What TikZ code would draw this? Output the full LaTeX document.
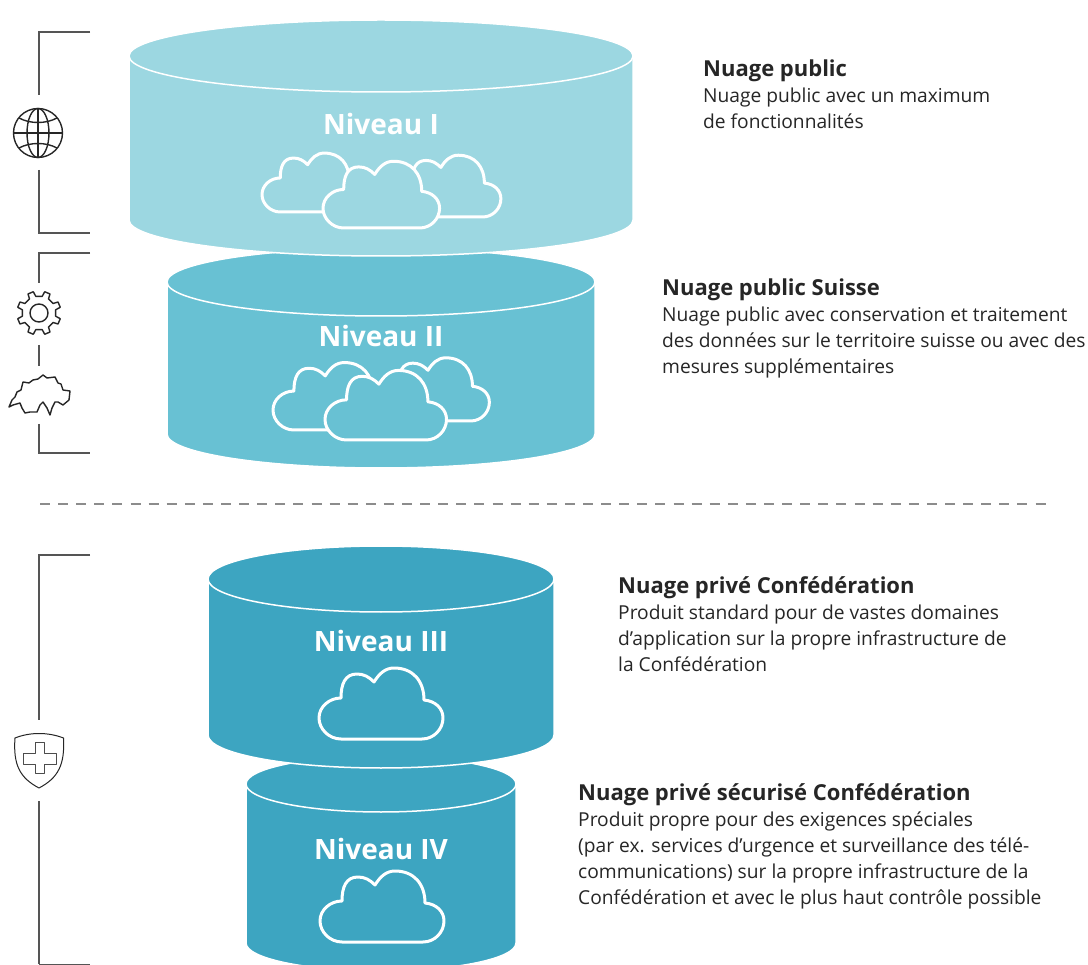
\documentclass[tikz,border=0pt]{standalone}
\usepackage{fontspec}
\setmainfont{Open Sans}
\definecolor{levelA}{HTML}{9CD7E1}
\definecolor{levelB}{HTML}{68C1D3}
\definecolor{levelC}{HTML}{3DA5C1}
\definecolor{bracketgray}{HTML}{555555}
\newcommand{\notehead}[1]{{\fontsize{22}{26}\selectfont\bfseries #1}}
\tikzset{
  bracket/.style={bracketgray, line width=1.2pt},
  icon/.style={black!85, line width=1.4pt, line join=round},
  level/.style={white, font=\fontsize{28}{30}\selectfont\bfseries},
  desc/.style={anchor=north west, inner sep=0pt, align=left, text=black!85, font=\fontsize{19.2}{26}\selectfont},
  pics/cloud/.style={code={
    \draw[white, line width=3pt, fill=#1, line join=round]
      (22,0) -- (103,0) .. controls (115,0) and (124,-10) .. (124,-21)
      .. controls (124,-31) and (116,-38) .. (105,-39)
      .. controls (105,-58) and (94,-71) .. (75,-71)
      .. controls (66,-71) and (60,-65) .. (55,-57)
      .. controls (50,-62) and (45,-65) .. (38,-65)
      .. controls (26,-65) and (22,-55) .. (22,-41)
      .. controls (10,-41) and (0,-32) .. (0,-21)
      .. controls (0,-10) and (10,0) .. (22,0) -- cycle;
  }}
}
% centre x, top y, half width, ellipse height, bottom y, colour
\newcommand{\drum}[6]{
  \path[fill=#6, draw=white, line width=1.5pt] (#1-#3,#2) -- (#1-#3,#5)
    arc[start angle=180, end angle=0, x radius=#3, y radius=#4] -- (#1+#3,#2)
    arc[start angle=0, end angle=-180, x radius=#3, y radius=#4] -- cycle;
  \draw[white, line width=1.5pt] (#1-#3,#2)
    arc[start angle=180, end angle=0, x radius=#3, y radius=#4];
}
\begin{document}
\begin{tikzpicture}[x=1pt, y=-1pt]
  \useasboundingbox[fill=white] (0,0) rectangle (1088,965);

  % Lower drums first
  \drum{381}{784}{135}{28}{943}{levelC}
  \drum{381}{579}{173}{33}{735}{levelC}
  \drum{381}{282}{214}{34}{434}{levelB}
  \drum{381}{56}{252}{36}{220}{levelA}

  % Level labels
  \node[level] (lvlI) at (381,124) {Niveau I};
  \node[level] (lvlII) at (381,336) {Niveau II};
  \node[level] (lvlIII) at (381,641) {Niveau III};
  \node[level] (lvlIV) at (381,849) {Niveau IV};

  % Clouds
  \pic[scale=.83] at (262,212) {cloud=levelA};
  \pic[scale=.87] at (393,217) {cloud=levelA};
  \pic[scale=.94] at (323,228) {cloud=levelA};
  \pic[scale=.95] at (273,430) {cloud=levelB};
  \pic[scale=.89] at (379,421) {cloud=levelB};
  \pic[scale=.98] at (325,440) {cloud=levelB};
  \pic at (319,739) {cloud=levelC};
  \pic at (320,942) {cloud=levelC};

  % Divider
  \draw[black!45, line width=1.2pt, dash pattern=on 10pt off 8.1pt] (40,504) -- (1046,504);

  % Globe
  \coordinate (globe) at (38,133);
  \draw[icon] (globe) circle (24.5);
  \draw[icon] (globe) ellipse (11 and 24.5);
  \draw[icon] (14,133) -- (62.5,133);
  \draw[icon] (38,108.5) -- (38,157.5);
  \draw[icon] (19,118) .. controls (30,124) and (46,124) .. (57,118);
  \draw[icon] (19,148) .. controls (30,142) and (46,142) .. (57,148);

  % Gear
  \coordinate (gear) at (39,313);
  \draw[icon] (gear) circle (9);
  \draw[icon, shift={(gear)}] (11:17)
    \foreach \a in {0,45,...,315} {
      -- (\a+11:17) -- (\a+15:22) -- (\a+30:22) -- (\a+34:17)
    } -- cycle;

  % Switzerland
  \coordinate (swiss) at (40,395);
  \draw[icon] (9,407) -- (12,400) -- (15,397) -- (17,392) -- (21,390) -- (23,382) -- (29,383) -- (33,380)
    -- (38,379) -- (43,375) -- (47,378) -- (55,377) -- (58,383) -- (61,384) -- (63,390) -- (70,391) -- (69,400) -- (63,405)
    -- (58,402) -- (55,402) -- (52,408) -- (50,415) -- (47,408) -- (43,402) -- (40,405) -- (37,412) -- (30,412) -- (25,413)
    -- (22,408) -- (20,403) -- (13,405) -- cycle;

  % Shield
  \coordinate (shield) at (39,760);
  \draw[icon, line width=1pt] (15,738) .. controls (30,732) and (48,732) .. (63.5,738)
    .. controls (65,765) and (58,778) .. (39,788)
    .. controls (20,778) and (13,765) .. (15,738) -- cycle;
  \draw[icon, line width=1pt, black!70] (35,742) -- (44,742) -- (44,753) -- (56,753) -- (56,764) -- (44,764) -- (44,773) -- (35,773)
    -- (35,764) -- (23,764) -- (23,753) -- (35,753) -- cycle;

  % Brackets
  \draw[bracket] (90,32) -- (39,32) -- ([xshift=1pt,yshift=38pt]globe);
  \draw[bracket] ([xshift=1pt,yshift=-37pt]globe) -- (39,233) -- (90,233);
  \draw[bracket] (90,253) -- (39,253) -- ([yshift=30pt]gear);
  \draw[bracket] ([yshift=-32pt]gear) -- ([yshift=-53pt]gear);
  \draw[bracket] ([xshift=-1pt,yshift=-29pt]swiss) -- (39,453) -- (90,453);
  \draw[bracket] (90,555) -- (39,555) -- ([yshift=40pt]shield);
  \draw[bracket] ([yshift=-41pt]shield) -- (39,964);
  \draw[bracket, line width=.6pt] (39,964) -- (90,964);

  % Descriptions
  \node[desc] (publicnote) at (703,60) {\notehead{Nuage public}\\Nuage public avec un maximum\\de fonctionnalités};
  \node[desc] (suissenote) at (662,279) {\notehead{Nuage public Suisse}\\Nuage public avec conservation et traitement\\des données sur le territoire suisse ou avec des\\mesures supplémentaires};
  \node[desc] (privenote) at (618,576) {\notehead{Nuage privé Confédération}\\Produit standard pour de vastes domaines\\d’application sur la propre infrastructure de\\la Confédération};
  \node[desc] (securenote) at (578,783) {\notehead{Nuage privé sécurisé Confédération}\\Produit propre pour des exigences spéciales\\(par ex. services d’urgence et surveillance des télé-\\communications) sur la propre infrastructure de la\\Confédération et avec le plus haut contrôle possible};
\end{tikzpicture}
\end{document}
